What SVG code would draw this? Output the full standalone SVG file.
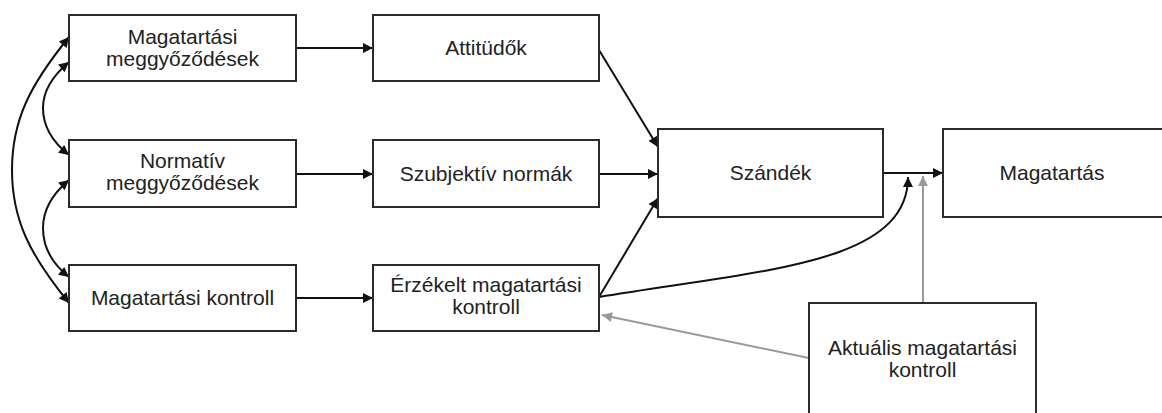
<svg xmlns="http://www.w3.org/2000/svg" width="1162" height="413" viewBox="0 0 1162 413">
  <style>
    .box { fill: #ffffff; stroke: #2b2b2b; stroke-width: 2; }
    .lbl { font-family: "Liberation Sans", Arial, sans-serif; font-size: 21px; fill: #222222; text-anchor: middle; }
    .dark { fill: none; stroke: #111111; stroke-width: 2; }
    .grey { fill: none; stroke: #9a9a9a; stroke-width: 2; }
  </style>
  <defs>
    <marker id="ah" viewBox="0 0 10 10" refX="10" refY="5" markerWidth="6" markerHeight="5" markerUnits="strokeWidth" orient="auto-start-reverse">
      <path d="M0,0 L10,5 L0,10 Z" fill="#111111"/>
    </marker>
    <marker id="ahGrey" viewBox="0 0 10 10" refX="10" refY="5" markerWidth="6" markerHeight="5" markerUnits="strokeWidth" orient="auto-start-reverse">
      <path d="M0,0 L10,5 L0,10 Z" fill="#9a9a9a"/>
    </marker>
  </defs>
  <rect width="1162" height="413" fill="#ffffff"/>

  <g id="connectors">
    <!-- belief correlations on the left -->
    <path class="dark" d="M69,37 C30,85 12,120 12,170 C12,220 30,255 69,303" marker-start="url(#ah)" marker-end="url(#ah)"/>
    <path class="dark" d="M69,62 C50,78 43,94 43,108 C43,124 50,140 69,155" marker-start="url(#ah)" marker-end="url(#ah)"/>
    <path class="dark" d="M69,180 C50,196 43,212 43,228 C43,244 50,262 69,277" marker-start="url(#ah)" marker-end="url(#ah)"/>
    <!-- beliefs to determinants -->
    <path class="dark" d="M296,48 L373,48" marker-end="url(#ah)"/>
    <path class="dark" d="M296,174 L373,174" marker-end="url(#ah)"/>
    <path class="dark" d="M296,298 L373,298" marker-end="url(#ah)"/>
    <!-- determinants to intention -->
    <path class="dark" d="M599,50 L658,147" marker-end="url(#ah)"/>
    <path class="dark" d="M599,174 L658,174" marker-end="url(#ah)"/>
    <path class="dark" d="M599,297 L658,198" marker-end="url(#ah)"/>
    <!-- intention to behaviour -->
    <path class="dark" d="M883,173 L943,173" marker-end="url(#ah)"/>
    <path class="dark" d="M599,297 C760,270 908,265 908,177" marker-end="url(#ah)"/>
    <!-- actual control -->
    <path class="grey" d="M923,303 L923,176" marker-end="url(#ahGrey)"/>
    <path class="grey" d="M809,358 L602,315" marker-end="url(#ahGrey)"/>
  </g>

  <g id="node-magatartasi-meggyozodesek">
    <rect class="box" x="69" y="15" width="227" height="66"/>
    <text class="lbl" x="182.5" y="44">Magatartási</text>
    <text class="lbl" x="182.5" y="66">meggyőződések</text>
  </g>
  <g id="node-normativ-meggyozodesek">
    <rect class="box" x="69" y="140" width="227" height="67"/>
    <text class="lbl" x="182.5" y="168">Normatív</text>
    <text class="lbl" x="182.5" y="190">meggyőződések</text>
  </g>
  <g id="node-magatartasi-kontroll">
    <rect class="box" x="69" y="265" width="227" height="66"/>
    <text class="lbl" x="182.5" y="305">Magatartási kontroll</text>
  </g>
  <g id="node-attitudok">
    <rect class="box" x="373" y="15" width="226" height="66"/>
    <text class="lbl" x="486" y="55">Attitüdők</text>
  </g>
  <g id="node-szubjektiv-normak">
    <rect class="box" x="373" y="140" width="226" height="67"/>
    <text class="lbl" x="486" y="181">Szubjektív normák</text>
  </g>
  <g id="node-erzekelt-kontroll">
    <rect class="box" x="373" y="265" width="226" height="66"/>
    <text class="lbl" x="486" y="292">Érzékelt magatartási</text>
    <text class="lbl" x="486" y="314">kontroll</text>
  </g>
  <g id="node-szandek">
    <rect class="box" x="658" y="129" width="225" height="88"/>
    <text class="lbl" x="770.5" y="180">Szándék</text>
  </g>
  <g id="node-magatartas">
    <rect class="box" x="943" y="129" width="230" height="88"/>
    <text class="lbl" x="1052" y="180">Magatartás</text>
  </g>
  <g id="node-aktualis-kontroll">
    <rect class="box" x="809" y="303" width="227" height="120"/>
    <text class="lbl" x="922.5" y="355">Aktuális magatartási</text>
    <text class="lbl" x="922.5" y="377">kontroll</text>
  </g>
</svg>
